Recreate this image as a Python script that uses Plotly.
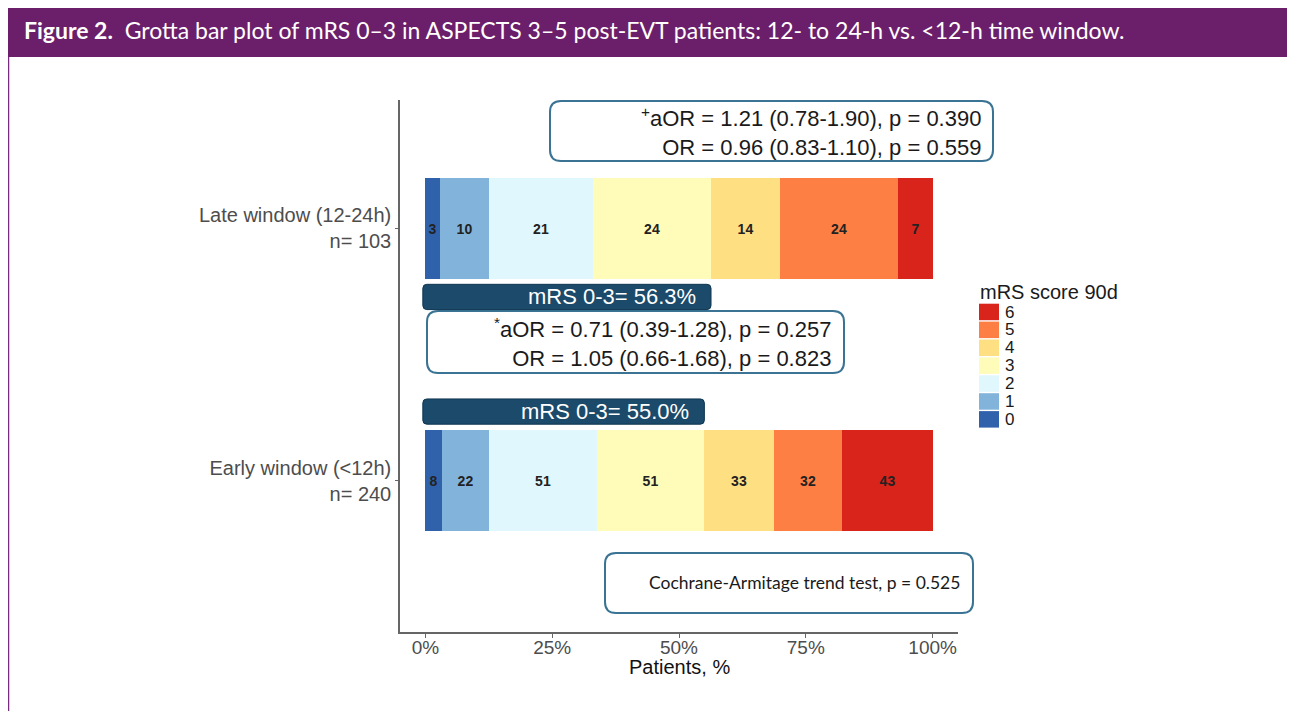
import plotly.graph_objects as go

# ---------------- data ----------------
group_labels = ["Late window (12-24h)", "Early window (&lt;12h)"]
group_n = [103, 240]
group_pos = [2, 1]
mrs_levels = ["0", "1", "2", "3", "4", "5", "6"]
late_counts = [3, 10, 21, 24, 14, 24, 7]
early_counts = [8, 22, 51, 51, 33, 32, 43]
mrs_colors = ["#3062AC", "#82B3DA", "#E0F7FE", "#FFFCBA", "#FEDF82", "#FD7F43", "#D8241A"]
x_ticks = [0, 25, 50, 75, 100]
x_ticklabels = ["0%", "25%", "50%", "75%", "100%"]
stats_late = ["<sup>+</sup>aOR = 1.21 (0.78-1.90), p = 0.390", "OR = 0.96 (0.83-1.10), p = 0.559"]
stats_mid = ["<sup>*</sup>aOR = 0.71 (0.39-1.28), p = 0.257", "OR = 1.05 (0.66-1.68), p = 0.823"]
trend_text = "Cochrane-Armitage trend test, p = 0.525"
title_bold = "Figure 2."
title_rest = "Grotta bar plot of mRS 0–3 in ASPECTS 3–5 post-EVT patients: 12- to 24-h vs. &lt;12-h time window."

OFF = 8  # browser body margin: page pixel = figure pixel + 8
W, H = 1295 - OFF, 711 - OFF
ARIAL = "Arial, Liberation Sans, sans-serif"
LATO = "Lato, Open Sans, sans-serif"
BOX_EDGE = "#3A7393"
DARK_BOX = "#1B4A6A"

counts = [late_counts, early_counts]
pcts = [[c / n * 100 for c in cs] for cs, n in zip(counts, group_n)]

fig = go.Figure()
for k, lvl in enumerate(mrs_levels):
    fig.add_trace(go.Bar(
        orientation="h",
        y=group_pos,
        x=[pcts[0][k], pcts[1][k]],
        text=[str(counts[0][k]), str(counts[1][k])],
        textposition="inside",
        insidetextanchor="middle",
        textangle=0,
        constraintext="none",
        textfont=dict(family=ARIAL, size=14, color="#222222", weight="bold"),
        marker=dict(color=mrs_colors[k], line=dict(width=0)),
        width=0.4,
        name=lvl,
        showlegend=False,
        hoverinfo="skip",
    ))


def X(px):
    return (px - OFF) / W


def Y(py):
    return 1 - (py - OFF) / H


def rounded(x0, y0, x1, y1, rx, ry):
    sy = 1 if y1 > y0 else -1
    return (f"M{x0+rx},{y0} L{x1-rx},{y0} Q{x1},{y0} {x1},{y0+sy*ry} "
            f"L{x1},{y1-sy*ry} Q{x1},{y1} {x1-rx},{y1} L{x0+rx},{y1} "
            f"Q{x0},{y1} {x0},{y1-sy*ry} L{x0},{y0+sy*ry} Q{x0},{y0} {x0+rx},{y0} Z")


shapes = []
annotations = []

# title bar
shapes.append(dict(type="rect", xref="paper", yref="paper", x0=0, x1=1.01, y0=Y(57), y1=Y(-20),
                   fillcolor="#6B1F6B", line=dict(width=0), layer="above"))
shapes.append(dict(type="line", xref="paper", yref="paper", x0=X(8.5), x1=X(8.5), y0=-0.02, y1=Y(57),
                   line=dict(color="#7A2A80", width=1.5)))
annotations.append(dict(xref="paper", yref="paper", x=X(22), y=Y(30), xanchor="left", yanchor="middle",
                        showarrow=False, text=f"<b>{title_bold}</b>  {title_rest}",
                        font=dict(family=LATO, size=23, color="white")))


def px_box(x0, y0, x1, y1, r=11):
    shapes.append(dict(type="path", xref="paper", yref="paper",
                       path=rounded(X(x0), Y(y0), X(x1), Y(y1), r / W, r / H),
                       fillcolor="white", line=dict(color=BOX_EDGE, width=2), layer="above"))


px_box(550, 101, 993, 161)
annotations.append(dict(xref="paper", yref="paper", x=X(983), y=Y(131), xanchor="right", yanchor="middle",
                        align="right", showarrow=False, text="<br>".join(stats_late),
                        font=dict(family=ARIAL, size=22, color="#1a1a1a")))
px_box(427, 311, 844, 373)
annotations.append(dict(xref="paper", yref="paper", x=X(833), y=Y(342), xanchor="right", yanchor="middle",
                        align="right", showarrow=False, text="<br>".join(stats_mid),
                        font=dict(family=ARIAL, size=22, color="#1a1a1a")))
px_box(605, 553, 973, 613)
annotations.append(dict(xref="paper", yref="paper", x=X(962), y=Y(582), xanchor="right", yanchor="middle",
                        showarrow=False, text=trend_text,
                        font=dict(family=LATO, size=17.5, color="#1a1a1a")))

# dark mRS 0-3 boxes, tied to the data (length = % mRS 0-3)
px_per_x = (958 - 400) / 110.0
px_per_y = (632 - 100) / (2.507 - 0.4)
for gi, (cs, n) in enumerate(zip(counts, group_n)):
    p03 = sum(cs[:4]) / n * 100
    yc = group_pos[gi] + (-0.273 if gi == 0 else 0.273)
    y_top, y_bot = yc + 0.05, yc - 0.05
    shapes.append(dict(type="path", xref="x", yref="y",
                       path=rounded(-0.5, y_top, p03, y_bot, 4 / px_per_x, 4 / px_per_y),
                       fillcolor=DARK_BOX, line=dict(color="#0F3550", width=1), layer="above"))
    annotations.append(dict(xref="x", yref="y", x=p03 - 2.6, y=yc, xanchor="right", yanchor="middle",
                            showarrow=False, text=f"mRS 0-3= {p03:.1f}%",
                            font=dict(family=ARIAL, size=22, color="white")))

# manual legend
annotations.append(dict(xref="paper", yref="paper", x=X(978), y=Y(292), xanchor="left", yanchor="middle",
                        showarrow=False, text="mRS score 90d",
                        font=dict(family=ARIAL, size=20, color="#1a1a1a")))
for i, k in enumerate(reversed(range(len(mrs_levels)))):
    top = 303 + 17.9 * i
    shapes.append(dict(type="rect", xref="paper", yref="paper", x0=X(979), x1=X(999),
                       y0=Y(top + 17.2), y1=Y(top + 0.7), fillcolor=mrs_colors[k], line=dict(width=0)))
    annotations.append(dict(xref="paper", yref="paper", x=X(1003), y=Y(top + 9), xanchor="left",
                            yanchor="middle", showarrow=False, text=mrs_levels[k],
                            font=dict(family=ARIAL, size=17, color="#1a1a1a")))

# x axis title
annotations.append(dict(xref="paper", yref="paper", x=X(679), y=Y(667), xanchor="center", yanchor="middle",
                        showarrow=False, text="Patients, %",
                        font=dict(family=ARIAL, size=20, color="#111111")))

fig.update_layout(
    width=W, height=H,
    margin=dict(l=0, r=0, t=0, b=0),
    paper_bgcolor="white", plot_bgcolor="white",
    barmode="stack",
    bargap=0,
    showlegend=False,
    shapes=shapes,
    annotations=annotations,
    xaxis=dict(domain=[X(400), X(958)], range=[-5, 105], tickvals=x_ticks, ticktext=x_ticklabels,
               showgrid=False, zeroline=False, showline=True, linecolor="#666666", linewidth=1.5,
               ticks="outside", ticklen=4, tickcolor="#666666", tickwidth=1.2, ticklabelstandoff=-7,
               tickfont=dict(family=ARIAL, size=19, color="#4D4D4D")),
    yaxis=dict(domain=[Y(632), Y(100)], range=[0.4, 2.507], tickvals=group_pos,
               ticktext=[f"{g}<br>n= {n}" for g, n in zip(group_labels, group_n)],
               showgrid=False, zeroline=False, showline=True, linecolor="#666666", linewidth=1.5,
               ticks="outside", ticklen=3, tickcolor="#666666", tickwidth=1.2,
               tickfont=dict(family=ARIAL, size=20, color="#4D4D4D")),
)

fig.write_html("out.html")
